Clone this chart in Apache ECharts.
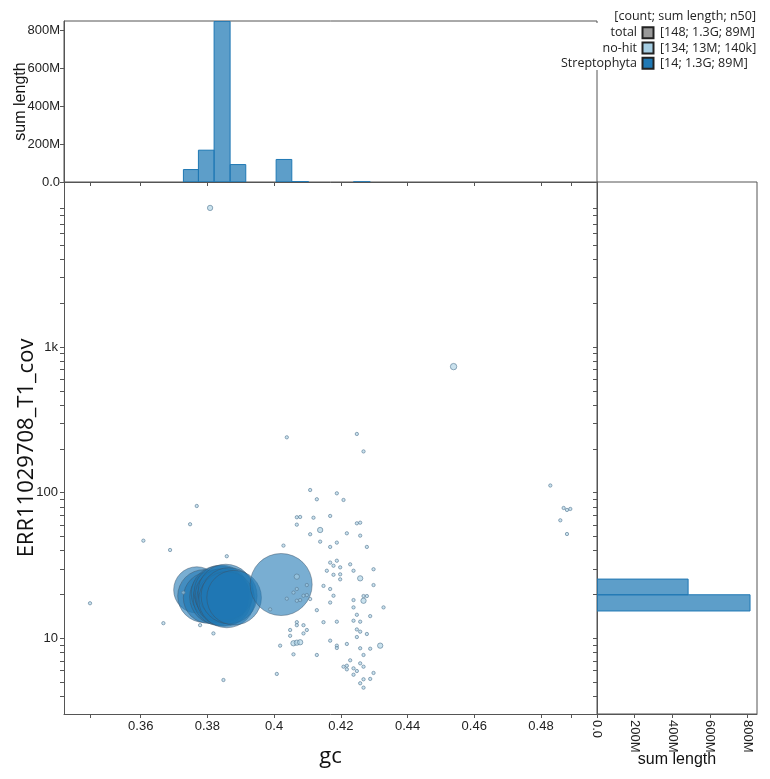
<!DOCTYPE html>
<html>
<head>
<meta charset="utf-8">
<script src="https://cdn.jsdelivr.net/npm/echarts@6/dist/echarts.min.js"></script>
<style>
  html, body { margin: 0; padding: 0; background: #fff; }
  #chart { width: 770px; height: 779px; }
</style>
</head>
<body>
<div id="chart"></div>
<script>
// axis ranges
const gcMin = 0.337;
const gcMax = 0.4968;
const covMin = 3.02;
const covMax = 13600;
const lenMax = 850; // M

const gcTicks = [0.345, 0.36, 0.38, 0.40, 0.42, 0.44, 0.46, 0.48, 0.489];
const gcLabels = [0.36, 0.38, 0.40, 0.42, 0.44, 0.46, 0.48];
const covTicks = [4, 5, 6, 7, 8, 9, 10, 20, 30, 40, 50, 60, 70, 80, 90,
  100, 200, 300, 400, 500, 600, 700, 800, 900,
  1000, 2000, 3000, 4000, 5000, 6000, 7000, 8000, 9000];
const covLabels = [10, 100, 1000];

// Streptophyta blobs (length in M)
const streptoGc  = [0.3768, 0.3790, 0.3805, 0.3830, 0.3835, 0.3840, 0.3842, 0.3845, 0.3850, 0.3855, 0.3858, 0.3865, 0.3880, 0.4021];
const streptoCov = [21.5, 19.5, 19.0, 19.2, 20.3, 18.8, 20.6, 19.6, 18.6, 20.8, 18.4, 19.6, 19.0, 23.4];
const streptoLen = [65.7, 86, 82, 95, 96, 94, 93, 91, 92, 95, 97, 97, 92, 119];

// no-hit contigs
const nohitGc = [0.4538, 0.4038, 0.4248, 0.4268, 0.4828, 0.4868, 0.4878, 0.4888, 0.4858, 0.4878,
  0.4108, 0.4128, 0.4188, 0.4208, 0.4068, 0.4078, 0.4068, 0.4118, 0.4168, 0.4248,
  0.4258, 0.4138, 0.4108, 0.4218, 0.4258, 0.4138, 0.4188, 0.4168, 0.4278, 0.4028,
  0.4168, 0.4178, 0.4188, 0.4198, 0.4158, 0.4178, 0.4198, 0.4198, 0.4228, 0.4238,
  0.4298, 0.4258, 0.4298, 0.4148, 0.4168, 0.4178, 0.4168, 0.4268, 0.4278, 0.4268,
  0.4238, 0.4238, 0.4328, 0.4128, 0.4068, 0.4068, 0.4058, 0.4088, 0.4098, 0.4078,
  0.4068, 0.4108, 0.4098, 0.4038, 0.3988, 0.4248, 0.4288, 0.4068, 0.4068, 0.4088,
  0.4098, 0.4048, 0.4048, 0.4088, 0.4148, 0.4188, 0.4238, 0.4258, 0.4248, 0.4258,
  0.4278, 0.4248, 0.4058, 0.4068, 0.4078, 0.4018, 0.4168, 0.4188, 0.4188, 0.4218,
  0.4258, 0.4288, 0.4318, 0.4058, 0.4128, 0.4268, 0.4228, 0.4208, 0.4218, 0.4218,
  0.4238, 0.4248, 0.4268, 0.4258, 0.4238, 0.4298, 0.4288, 0.4268, 0.4258, 0.4268,
  0.4008, 0.3768, 0.3748, 0.3608, 0.3688, 0.3858, 0.3448, 0.3668, 0.3778, 0.3818,
  0.3848, 0.3728, 0.3808];
const nohitCov = [734, 240, 253, 192, 112, 78.5, 76.1, 77.3, 64.6, 52.0,
  104.3, 90.1, 99, 89.1, 67.8, 68.1, 60.3, 67.3, 69.2, 61.6,
  62.2, 55.4, 51.8, 52.6, 50.7, 46.1, 45.4, 42.4, 42.4, 43.3,
  33.1, 31.5, 34.1, 30.7, 29.1, 27.3, 27.5, 25.4, 32.2, 29.1,
  29.8, 25.8, 23.2, 22.9, 21.8, 19.6, 17.6, 19.5, 19.5, 18.1,
  18.3, 16.3, 16.3, 15.6, 26.5, 21.8, 20.6, 19.6, 19.8, 18.3,
  18.1, 18.6, 23.2, 18.7, 15.8, 14.5, 14.2, 12.9, 12.3, 12.3,
  11.4, 11.4, 10.4, 10.8, 12.9, 13.0, 13.2, 13.0, 11.5, 11.1,
  10.7, 10.2, 9.24, 9.33, 9.39, 8.9, 9.63, 8.9, 8.58, 9.14,
  8.54, 8.48, 8.9, 7.76, 7.68, 7.68, 7.06, 6.38, 6.48, 6.12,
  6.22, 5.96, 6.38, 6.73, 5.62, 5.78, 5.26, 5.23, 4.91, 4.58,
  5.69, 81.0, 60.7, 46.8, 40.4, 36.6, 17.4, 12.7, 12.3, 10.8,
  5.17, 20.6, 9025];
const nohitLen = [1.0, 0.06, 0.06, 0.06, 0.06, 0.06, 0.06, 0.06, 0.06, 0.06,
  0.06, 0.06, 0.06, 0.06, 0.06, 0.06, 0.06, 0.06, 0.06, 0.06,
  0.06, 0.6, 0.06, 0.06, 0.06, 0.06, 0.06, 0.06, 0.06, 0.06,
  0.06, 0.06, 0.06, 0.06, 0.06, 0.06, 0.06, 0.06, 0.06, 0.06,
  0.06, 0.6, 0.06, 0.06, 0.06, 0.06, 0.06, 0.06, 0.06, 0.6,
  0.06, 0.06, 0.06, 0.06, 0.6, 0.06, 0.06, 0.06, 0.06, 0.06,
  0.06, 0.06, 0.06, 0.06, 0.06, 0.06, 0.06, 0.06, 0.06, 0.06,
  0.06, 0.06, 0.06, 0.06, 0.06, 0.06, 0.06, 0.06, 0.06, 0.06,
  0.06, 0.06, 0.6, 0.6, 0.6, 0.06, 0.06, 0.06, 0.06, 0.06,
  0.06, 0.06, 0.6, 0.06, 0.06, 0.06, 0.06, 0.06, 0.06, 0.06,
  0.06, 0.06, 0.06, 0.06, 0.06, 0.06, 0.06, 0.06, 0.06, 0.06,
  0.06, 0.06, 0.06, 0.06, 0.06, 0.06, 0.06, 0.06, 0.06, 0.06,
  0.06, 0.06, 0.6];

// gc histogram (sum length, M)
const gcBinStart = [0.3728, 0.3773, 0.3820, 0.3868, 0.4006, 0.4053, 0.4238];
const gcBinEnd   = [0.3773, 0.3820, 0.3868, 0.3915, 0.4053, 0.4103, 0.4288];
const gcBinLen   = [65.7, 168, 848, 92, 119, 2, 1];

// coverage histogram (sum length, M)
const covBinStart = [15.4, 19.9];
const covBinEnd   = [19.9, 25.5];
const covBinLen   = [813, 484];

// legend
const legendNames = ['total', 'no-hit', 'Streptophyta'];
const legendStats = ['[148; 1.3G; 89M]', '[134; 13M; 140k]', '[14; 1.3G; 89M]'];
const legendColors = ['#999999', '#a6cee3', '#1f78b4'];

const axisColor = '#555';
const tickFont = { fontSize: 13, color: '#222', fontFamily: 'Liberation Sans, Arial, sans-serif' };

function sizeOf(len) {
  return 2 * Math.sqrt(2.25 + 8.07 * len);
}

function lenLabel(v) {
  return v === 0 ? '0.0' : v + 'M';
}

const chart = echarts.init(document.getElementById('chart'));

const legendGraphics = [
  { type: 'rect', shape: { x: 560, y: 23, width: 210, height: 47 }, style: { fill: '#fff' }, z: 100 },
  {
    type: 'text', x: 756, y: 16.5, z: 101,
    style: { text: '[count; sum length; n50]', align: 'right', verticalAlign: 'middle', font: '12.5px "Open Sans"', fill: '#222' }
  }
];
legendNames.forEach((name, i) => {
  const y = 32.7 + i * 15.3;
  legendGraphics.push(
    { type: 'text', x: 637, y, z: 101, style: { text: name, align: 'right', verticalAlign: 'middle', font: '12.5px "Open Sans"', fill: '#222' } },
    { type: 'rect', z: 101, shape: { x: 642.5, y: y - 5.5, width: 11, height: 11 }, style: { fill: legendColors[i], stroke: '#222', lineWidth: 2 } },
    { type: 'text', x: 660, y, z: 101, style: { text: legendStats[i], align: 'left', verticalAlign: 'middle', font: '12.5px "Open Sans"', fill: '#222' } }
  );
});

const noBounds = { containLabel: false, outerBoundsMode: 'none' };

chart.setOption({
  animation: false,
  grid: [
    { left: 64, top: 182, width: 533, height: 532, ...noBounds },
    { left: 64, top: 21, width: 533, height: 161, show: true, borderColor: axisColor, borderWidth: 1, ...noBounds },
    { left: 597, top: 182, width: 160, height: 532, show: true, borderColor: axisColor, borderWidth: 1, ...noBounds }
  ],
  xAxis: [
    {
      gridIndex: 0, type: 'value', min: gcMin, max: gcMax,
      axisLine: { lineStyle: { color: axisColor } },
      axisTick: { customValues: gcTicks, length: 4, lineStyle: { color: axisColor } },
      axisLabel: { customValues: gcLabels, margin: 6, ...tickFont, formatter: v => String(+v.toFixed(3)) },
      splitLine: { show: false },
      name: 'gc', nameLocation: 'middle', nameGap: 32, nameMoveOverlap: false,
      nameTextStyle: { fontSize: 22, fontFamily: 'Open Sans', color: '#111' }
    },
    {
      gridIndex: 1, type: 'value', min: gcMin, max: gcMax,
      axisLine: { lineStyle: { color: axisColor } },
      axisTick: { customValues: gcTicks, length: 4, lineStyle: { color: axisColor } },
      axisLabel: { show: false },
      splitLine: { show: false }
    },
    {
      gridIndex: 2, type: 'value', min: 0, max: lenMax, interval: 200,
      axisLine: { lineStyle: { color: axisColor } },
      axisTick: { length: 4, lineStyle: { color: axisColor } },
      axisLabel: { rotate: -90, margin: 6, ...tickFont, formatter: lenLabel },
      splitLine: { show: false },
      name: 'sum length', nameLocation: 'middle', nameGap: 38, nameMoveOverlap: false,
      nameTextStyle: { fontSize: 16, fontFamily: 'Liberation Sans', color: '#111' }
    }
  ],
  yAxis: [
    {
      gridIndex: 0, type: 'log', logBase: 10, min: covMin, max: covMax,
      axisLine: { show: true, lineStyle: { color: axisColor } },
      axisTick: { show: true, customValues: covTicks, length: 4, lineStyle: { color: axisColor } },
      axisLabel: { customValues: covLabels, margin: 6, ...tickFont, formatter: v => v >= 1000 ? (v / 1000) + 'k' : String(v) },
      splitLine: { show: false },
      name: 'ERR11029708_T1_cov', nameLocation: 'middle', nameGap: 26, nameMoveOverlap: false,
      nameTextStyle: { fontSize: 22, fontFamily: 'Open Sans', color: '#111' }
    },
    {
      gridIndex: 1, type: 'value', min: 0, max: lenMax, interval: 200,
      axisLine: { show: true, lineStyle: { color: axisColor } },
      axisTick: { show: true, length: 4, lineStyle: { color: axisColor } },
      axisLabel: { margin: 4, ...tickFont, formatter: lenLabel },
      splitLine: { show: false },
      name: 'sum length', nameLocation: 'middle', nameGap: 35, nameMoveOverlap: false,
      nameTextStyle: { fontSize: 16, fontFamily: 'Liberation Sans', color: '#111' }
    },
    {
      gridIndex: 2, type: 'log', logBase: 10, min: covMin, max: covMax,
      axisLine: { show: true, lineStyle: { color: axisColor } },
      axisTick: { show: true, customValues: covTicks, length: 4, lineStyle: { color: axisColor } },
      axisLabel: { show: false },
      splitLine: { show: false }
    }
  ],
  graphic: legendGraphics,
  series: [
    {
      type: 'custom', xAxisIndex: 1, yAxisIndex: 1, clip: true,
      data: gcBinStart.map((s, i) => [s, gcBinEnd[i], gcBinLen[i]]),
      renderItem: (params, api) => {
        const p0 = api.coord([api.value(0), api.value(2)]);
        const p1 = api.coord([api.value(1), 0]);
        return {
          type: 'rect',
          shape: { x: p0[0], y: p0[1], width: p1[0] - p0[0], height: p1[1] - p0[1] },
          style: { fill: 'rgba(31,120,180,0.72)', stroke: '#1f78b4', lineWidth: 1 }
        };
      }
    },
    {
      type: 'custom', xAxisIndex: 2, yAxisIndex: 2, clip: true,
      data: covBinStart.map((s, i) => [s, covBinEnd[i], covBinLen[i]]),
      renderItem: (params, api) => {
        const p0 = api.coord([0, api.value(1)]);
        const p1 = api.coord([api.value(2), api.value(0)]);
        return {
          type: 'rect',
          shape: { x: p0[0], y: p0[1], width: p1[0] - p0[0], height: p1[1] - p0[1] },
          style: { fill: 'rgba(31,120,180,0.72)', stroke: '#1f78b4', lineWidth: 1 }
        };
      }
    },
    {
      name: 'Streptophyta', type: 'scatter', xAxisIndex: 0, yAxisIndex: 0,
      data: streptoGc.map((g, i) => [g, streptoCov[i], streptoLen[i]]),
      symbolSize: d => sizeOf(d[2]),
      itemStyle: { color: 'rgba(31,120,180,0.6)', borderColor: 'rgba(60,80,100,0.45)', borderWidth: 1, opacity: 1 }
    },
    {
      name: 'no-hit', type: 'scatter', xAxisIndex: 0, yAxisIndex: 0,
      data: nohitGc.map((g, i) => [g, nohitCov[i], nohitLen[i]]),
      symbolSize: d => sizeOf(d[2]),
      itemStyle: { color: 'rgba(166,206,227,0.6)', borderColor: 'rgba(90,125,150,0.65)', borderWidth: 1, opacity: 1 }
    }
  ]
});
</script>
</body>
</html>
